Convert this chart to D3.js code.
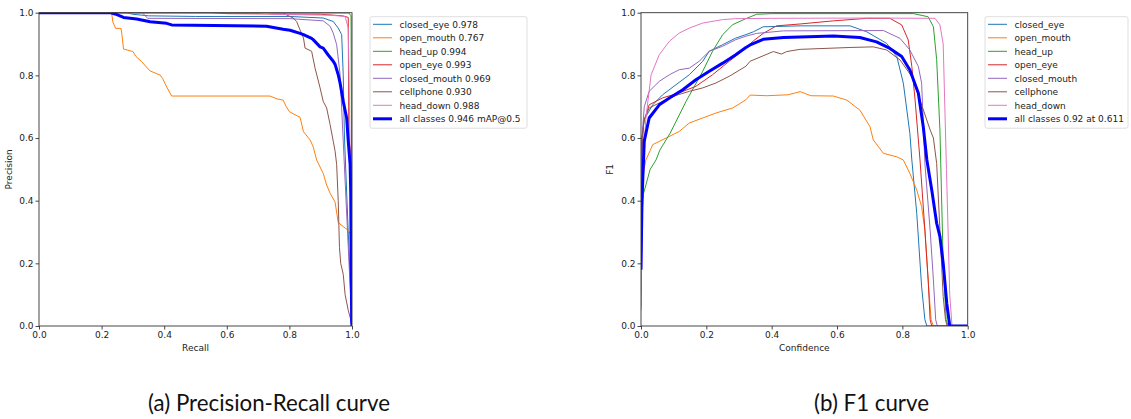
<!DOCTYPE html>
<html><head><meta charset="utf-8">
<script src="https://cdn.jsdelivr.net/npm/d3@7"></script>
<style>
html,body{margin:0;padding:0;background:#fff;}
svg text{font-family:"DejaVu Sans",sans-serif;}
</style></head>
<body>
<svg id="c" width="1131" height="419"></svg>
<script>
// ---------- data ----------
const classNames = ["closed_eye","open_mouth","head_up","open_eye","closed_mouth","cellphone","head_down"];
const classColors = ["#1f77b4","#ff7f0e","#2ca02c","#d62728","#9467bd","#8c564b","#e377c2"];
const apValues = [0.978,0.767,0.994,0.993,0.969,0.930,0.988];
const mapAll = 0.946;
const bestF1 = 0.92, bestConf = 0.611;
const axisTicks = [0,0.2,0.4,0.6,0.8,1.0];

// Precision-Recall curves: [recall, precision]
const prClosedEye = [[0,1],[0.28,1],[0.3,0.995],[0.35,0.99],[0.5,0.988],[0.8,0.988],[0.908,0.983],[0.94,0.972],[0.956,0.951],[0.967,0.93],[0.972,0.802],[0.974,0.696],[0.976,0.6],[1,0]];
const prOpenMouth = [[0,1],[0.232,1],[0.236,0.97],[0.245,0.95],[0.262,0.95],[0.265,0.93],[0.27,0.884],[0.3,0.876],[0.31,0.86],[0.328,0.844],[0.34,0.83],[0.355,0.814],[0.387,0.801],[0.395,0.79],[0.405,0.769],[0.415,0.75],[0.424,0.734],[0.738,0.734],[0.76,0.725],[0.78,0.721],[0.79,0.7],[0.8,0.684],[0.834,0.666],[0.845,0.62],[0.866,0.594],[0.876,0.572],[0.887,0.53],[0.908,0.487],[0.919,0.45],[0.93,0.424],[0.946,0.395],[0.956,0.33],[0.988,0.305],[0.994,0.295],[1,0]];
const prHeadUp = [[0,1],[0.99,0.999],[0.997,0.99],[1,0]];
const prOpenEye = [[0,1],[0.55,1],[0.6,0.997],[0.9,0.995],[0.97,0.99],[0.988,0.985],[0.99,0.6],[0.996,0.55],[1,0]];
const prClosedMouth = [[0,1],[0.33,1],[0.347,0.982],[0.802,0.981],[0.908,0.974],[0.93,0.957],[0.94,0.935],[0.951,0.898],[0.962,0.802],[0.967,0.696],[0.972,0.59],[1,0]];
const prCellphone = [[0,1],[0.78,1],[0.791,0.993],[0.812,0.983],[0.823,0.972],[0.834,0.945],[0.845,0.919],[0.85,0.887],[0.871,0.877],[0.882,0.823],[0.898,0.76],[0.908,0.717],[0.919,0.696],[0.93,0.643],[0.94,0.59],[0.946,0.558],[0.951,0.515],[0.956,0.4],[0.96,0.25],[0.964,0.2],[0.972,0.165],[0.978,0.1],[0.988,0.05],[0.999,0.01],[1,0]];
const prHeadDown = [[0,1],[0.7,1],[0.75,0.995],[0.93,0.992],[0.978,0.988],[0.988,0.951],[0.992,0.7],[1,0]];
const prAll = [[0,1],[0.23,1],[0.243,0.996],[0.27,0.985],[0.312,0.98],[0.355,0.971],[0.408,0.966],[0.424,0.961],[0.727,0.957],[0.78,0.947],[0.802,0.944],[0.834,0.934],[0.845,0.93],[0.871,0.918],[0.876,0.914],[0.898,0.891],[0.908,0.887],[0.924,0.865],[0.94,0.845],[0.946,0.835],[0.956,0.802],[0.962,0.775],[0.972,0.717],[0.983,0.664],[0.988,0.59],[0.994,0.515],[0.996,0.424],[0.999,0.01],[1,0]];

// F1 curves: [confidence, F1]
const f1ClosedEye = [[0,0.3],[0.003,0.6],[0.01,0.66],[0.036,0.706],[0.066,0.738],[0.107,0.77],[0.148,0.802],[0.189,0.845],[0.209,0.877],[0.25,0.898],[0.29,0.919],[0.321,0.93],[0.344,0.939],[0.374,0.955],[0.487,0.958],[0.64,0.958],[0.691,0.939],[0.752,0.902],[0.783,0.86],[0.803,0.775],[0.823,0.615],[0.829,0.53],[0.844,0.36],[0.859,0.125],[0.869,0.02],[0.875,0],[1,0]];
const f1OpenMouth = [[0,0.05],[0.003,0.35],[0.007,0.487],[0.015,0.53],[0.028,0.56],[0.036,0.579],[0.077,0.6],[0.117,0.621],[0.148,0.648],[0.189,0.664],[0.23,0.68],[0.281,0.696],[0.321,0.722],[0.334,0.737],[0.385,0.735],[0.45,0.738],[0.487,0.748],[0.52,0.735],[0.589,0.734],[0.63,0.721],[0.67,0.689],[0.701,0.636],[0.711,0.594],[0.742,0.551],[0.783,0.54],[0.803,0.53],[0.823,0.487],[0.844,0.434],[0.859,0.381],[0.869,0.306],[0.879,0.147],[0.888,0.02],[0.895,0],[1,0]];
const f1HeadUp = [[0,0.1],[0.003,0.35],[0.007,0.42],[0.028,0.5],[0.046,0.53],[0.058,0.562],[0.089,0.615],[0.138,0.717],[0.189,0.813],[0.219,0.877],[0.25,0.93],[0.281,0.962],[0.321,0.981],[0.354,0.995],[0.4,0.997],[0.834,0.997],[0.879,0.987],[0.895,0.955],[0.905,0.85],[0.915,0.626],[0.925,0.2],[0.934,0.02],[0.94,0],[1,0]];
const f1OpenEye = [[0,0.15],[0.003,0.55],[0.008,0.65],[0.025,0.706],[0.066,0.728],[0.117,0.744],[0.168,0.765],[0.219,0.802],[0.27,0.845],[0.313,0.88],[0.344,0.91],[0.374,0.934],[0.415,0.958],[0.487,0.964],[0.589,0.974],[0.691,0.982],[0.762,0.982],[0.798,0.961],[0.818,0.913],[0.829,0.828],[0.839,0.721],[0.854,0.53],[0.869,0.306],[0.879,0.147],[0.885,0.02],[0.89,0],[1,0]];
const f1ClosedMouth = [[0,0.3],[0.003,0.6],[0.01,0.7],[0.025,0.749],[0.056,0.781],[0.087,0.802],[0.117,0.818],[0.148,0.823],[0.178,0.845],[0.209,0.877],[0.25,0.893],[0.29,0.914],[0.321,0.925],[0.354,0.934],[0.436,0.942],[0.742,0.943],[0.793,0.918],[0.823,0.881],[0.849,0.828],[0.859,0.775],[0.869,0.519],[0.885,0.306],[0.895,0.147],[0.902,0.02],[0.907,0],[1,0]];
const f1Cellphone = [[0,0.35],[0.003,0.6],[0.01,0.66],[0.025,0.696],[0.066,0.717],[0.107,0.736],[0.148,0.749],[0.189,0.76],[0.23,0.776],[0.27,0.797],[0.321,0.829],[0.334,0.845],[0.405,0.876],[0.43,0.868],[0.446,0.876],[0.487,0.883],[0.64,0.889],[0.711,0.891],[0.752,0.881],[0.793,0.849],[0.829,0.796],[0.854,0.721],[0.885,0.626],[0.895,0.6],[0.905,0.519],[0.915,0.306],[0.925,0.094],[0.932,0.02],[0.937,0],[1,0]];
const f1HeadDown = [[0,0.06],[0.005,0.5],[0.015,0.664],[0.031,0.802],[0.056,0.866],[0.087,0.909],[0.117,0.935],[0.148,0.951],[0.189,0.967],[0.25,0.978],[0.29,0.981],[0.4,0.982],[0.7,0.983],[0.9,0.982],[0.915,0.961],[0.925,0.9],[0.935,0.5],[0.945,0.1],[0.952,0],[1,0]];
const f1All = [[0,0.18],[0.003,0.4],[0.01,0.59],[0.025,0.664],[0.056,0.706],[0.087,0.728],[0.128,0.754],[0.168,0.786],[0.209,0.813],[0.25,0.839],[0.29,0.866],[0.321,0.889],[0.334,0.897],[0.374,0.915],[0.436,0.921],[0.589,0.926],[0.67,0.921],[0.721,0.907],[0.762,0.886],[0.798,0.86],[0.823,0.817],[0.849,0.743],[0.864,0.636],[0.875,0.53],[0.89,0.434],[0.905,0.328],[0.915,0.285],[0.925,0.2],[0.936,0.072],[0.945,0],[1,0]];

const prCurves = [prClosedEye,prOpenMouth,prHeadUp,prOpenEye,prClosedMouth,prCellphone,prHeadDown];
const f1Curves = [f1ClosedEye,f1OpenMouth,f1HeadUp,f1OpenEye,f1ClosedMouth,f1Cellphone,f1HeadDown];

// ---------- drawing ----------
const svg = d3.select("#c");
const fmt1 = d3.format(".1f"), fmt3 = d3.format(".3f");

function panel(opt){
  const g = svg.append("g");
  const x = d3.scaleLinear().domain([0,1]).range([opt.x0,opt.x1]);
  const y = d3.scaleLinear().domain([0,1]).range([opt.y1,opt.y0]);
  const clipId = "clip"+opt.id;
  svg.append("clipPath").attr("id",clipId).append("rect")
    .attr("x",opt.x0).attr("y",opt.y0).attr("width",opt.x1-opt.x0).attr("height",opt.y1-opt.y0);
  const line = d3.line().x(d=>x(d[0])).y(d=>y(d[1]));
  const lg = g.append("g").attr("clip-path",`url(#${clipId})`);
  opt.curves.forEach((c,i)=>{
    lg.append("path").datum(c).attr("d",line).attr("fill","none")
      .attr("stroke",classColors[i]).attr("stroke-width",1).attr("stroke-linejoin","round");
  });
  lg.append("path").datum(opt.all).attr("d",line).attr("fill","none")
    .attr("stroke","#0000ff").attr("stroke-width",3).attr("stroke-linejoin","round");
  // axes
  const xa = g.append("g").attr("transform",`translate(0,${opt.y1})`)
    .call(d3.axisBottom(x).tickValues(axisTicks).tickFormat(fmt1).tickSize(3.5).tickSizeOuter(0).tickPadding(2));
  const ya = g.append("g").attr("transform",`translate(${opt.x0},0)`)
    .call(d3.axisLeft(y).tickValues(axisTicks).tickFormat(fmt1).tickSize(3.5).tickSizeOuter(0).tickPadding(2));
  [xa,ya].forEach(a=>{
    a.selectAll("path").remove();
    a.selectAll("line").attr("stroke","#333").attr("stroke-width",0.9);
    a.selectAll("text").attr("fill","#222").style("font-size","9px").style("font-family","DejaVu Sans");
  });
  g.append("rect").attr("x",opt.x0).attr("y",opt.y0).attr("width",opt.x1-opt.x0).attr("height",opt.y1-opt.y0)
    .attr("fill","none").attr("stroke","#333").attr("stroke-width",0.9);
  g.append("text").attr("x",(opt.x0+opt.x1)/2).attr("y",351).attr("text-anchor","middle")
    .attr("fill","#222").style("font-size","9px").text(opt.xlabel);
  g.append("text").attr("transform",`translate(${opt.ylx},${(opt.y0+opt.y1)/2}) rotate(-90)`)
    .attr("text-anchor","middle").attr("fill","#222").style("font-size","9px").text(opt.ylabel);
  // legend
  const L = opt.legend;
  g.append("rect").attr("x",L.x).attr("y",L.y).attr("width",L.w).attr("height",L.h).attr("rx",2)
    .attr("fill","#fff").attr("stroke","#d6d6d6").attr("stroke-width",0.8);
  const labels = opt.labels;
  labels.forEach((t,i)=>{
    const yy = L.y + 7.6 + i*13.5;
    const isAll = i===labels.length-1;
    g.append("line").attr("x1",L.x+3).attr("x2",L.x+22).attr("y1",yy).attr("y2",yy)
      .attr("stroke",isAll?"#0000ff":classColors[i]).attr("stroke-width",isAll?3:1);
    g.append("text").attr("x",L.x+29.5).attr("y",yy+3.3).attr("fill","#222").style("font-size","9px").text(t);
  });
}

panel({id:"a",x0:39,x1:352,y0:12.7,y1:326,curves:prCurves,all:prAll,xlabel:"Recall",ylabel:"Precision",ylx:11.5,
  legend:{x:370,y:16.7,w:157,h:111.5},
  labels:classNames.map((n,i)=>`${n} ${fmt3(apValues[i])}`).concat([`all classes ${fmt3(mapAll)} mAP@0.5`])});
panel({id:"b",x0:641,x1:967.7,y0:12.7,y1:326,curves:f1Curves,all:f1All,xlabel:"Confidence",ylabel:"F1",ylx:613,
  legend:{x:985,y:16.7,w:143,h:111.5},
  labels:classNames.concat([`all classes ${bestF1.toFixed(2)} at ${bestConf.toFixed(3)}`])});

// captions
const capA = svg.append("text").attr("x",269).attr("y",411).attr("text-anchor","middle")
  .style("font-family","Lato").style("font-size","20px").attr("fill","#111").text("(a) Precision-Recall curve");
const w = capA.node().getComputedTextLength();
const fs = 20*242/w;
capA.style("font-size",fs+"px");
svg.append("text").attr("x",871.5).attr("y",411).attr("text-anchor","middle")
  .style("font-family","Lato").style("font-size",fs+"px").attr("fill","#111").text("(b) F1 curve");
</script>
</body></html>
